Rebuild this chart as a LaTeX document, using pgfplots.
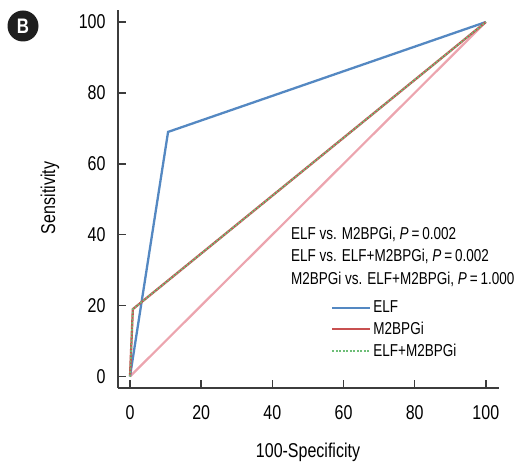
\documentclass[border=0pt]{standalone}
\usepackage{fontspec}
\setmainfont{Liberation Sans}[FakeStretch=0.8]
\newfontfamily\txtfam{Liberation Sans}[FakeStretch=0.785]
\usepackage{pgfplots}
\pgfplotsset{compat=1.18}
\definecolor{elfblue}{RGB}{84,136,194}
\definecolor{mred}{RGB}{200,80,80}
\definecolor{cgreen}{RGB}{110,190,120}
\definecolor{diagpink}{RGB}{236,165,175}
\definecolor{axgray}{RGB}{60,60,60}
\newcommand\tf{\txtfam\fontsize{17.2}{20}\selectfont}
\newcommand\tkf{\fontsize{20}{24}\selectfont}
\begin{document}
\begin{tikzpicture}[x=1pt,y=1pt]
\useasboundingbox (0,0) rectangle (516,464);
\begin{axis}[
  at={(118pt,76pt)}, anchor=south west,
  scale only axis, width=381pt, height=378pt,
  xmin=-3.37, xmax=103.7, ymin=-3.25, ymax=103.4,
  axis x line*=bottom, axis y line*=left,
  axis line style={-, axgray, line width=1.8pt},
  xtick={0,20,...,100}, ytick={0,20,...,100},
  tick align=inside, major tick length=8pt,
  tick style={axgray, line width=1.5pt},
  /pgf/number format/assume math mode=true,
  tick label style={font=\tkf},
  xticklabel style={yshift=-14pt},
  yticklabel style={xshift=-9pt},
  legend style={draw=none, fill=none, at={(axis description cs:0.559,0.236)}, anchor=north west, font=\tf, inner sep=0pt, row sep=4pt, cells={anchor=west}},
  legend image code/.code={\draw[#1] (0pt,0pt) -- (38pt,0pt);},
]
\addplot[diagpink, line width=2.2pt, forget plot] coordinates {(0,0) (100,100)};
\addplot[elfblue, line width=2.3pt] coordinates {(0,0) (10.7,69) (100,100)};
\addlegendentry{ELF}
\addplot[mred, line width=2.3pt] coordinates {(0,0) (0.8,19) (100,100)};
\addlegendentry{M2BPGi}
\addplot[cgreen, line width=1.6pt, dash pattern=on 2pt off 1.5pt] coordinates {(0,0) (0.8,19) (100,100)};
\addlegendentry{ELF+M2BPGi}
\end{axis}
\node[anchor=west, inner sep=0pt, font=\tf] at (291,230) {ELF vs. M2BPGi, \textit{P}\,=\,0.002};
\node[anchor=west, inner sep=0pt, font=\tf] at (291,208) {ELF vs. ELF+M2BPGi, \textit{P}\,=\,0.002};
\node[anchor=west, inner sep=0pt, font=\tf] at (291,185) {M2BPGi vs. ELF+M2BPGi, \textit{P}\,=\,1.000};
\node[font=\tkf] at (308,12) {100-Specificity};
\node[font=\tkf, rotate=90] at (50,266) {Sensitivity};
\node[circle, fill=black!88, text=white, minimum size=31pt, inner sep=0pt, font=\fontsize{21}{24}\selectfont\bfseries] at (23,438) {B};
\end{tikzpicture}
\end{document}
